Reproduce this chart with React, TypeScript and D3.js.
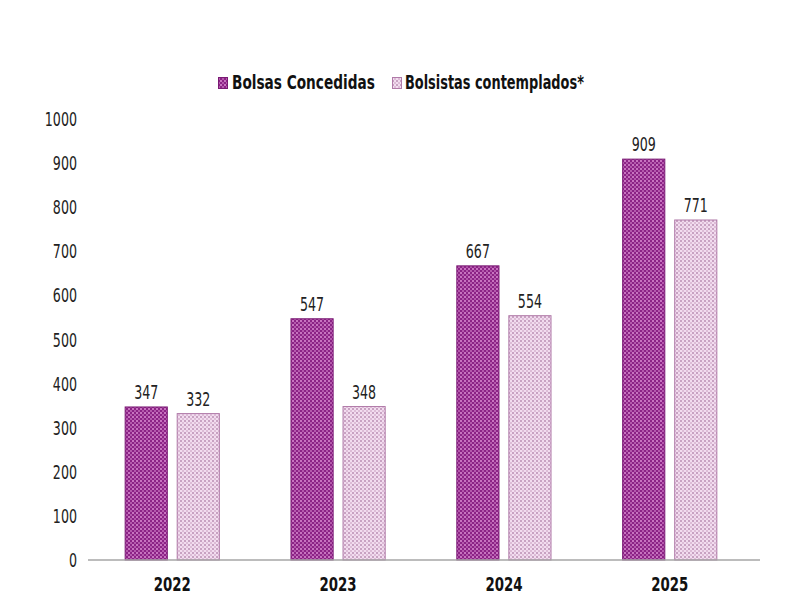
import React from "react";
import * as d3 from "d3";

const categories = ["2022", "2023", "2024", "2025"];
const seriesNames = ["Bolsas Concedidas", "Bolsistas contemplados*"];
const concedidas = [347, 547, 667, 909];
const contemplados = [332, 348, 554, 771];
const yTicks = [0, 100, 200, 300, 400, 500, 600, 700, 800, 900, 1000];

const W = 800, H = 600;
const left = 90, right = 752, top = 119, bottom = 560;
const font = "'DejaVu Sans Condensed', 'DejaVu Sans', sans-serif";

function T({ x, y, anchor = "start", bold = false, sx, children }: any) {
  const s = sx ?? (bold ? 0.78 : 0.74);
  return (
    <text
      transform={`translate(${x},${y}) scale(${s},1)`}
      textAnchor={anchor}
      fontFamily={font}
      fontSize={19}
      fontWeight={bold ? "bold" : "normal"}
      fill={bold ? "#111" : "#222"}
    >
      {children}
    </text>
  );
}

export default function App() {
  const x = d3.scaleBand<string>().domain(categories).range([left, right]).paddingInner(0.432).paddingOuter(0.212);
  const inner = d3.scaleBand<string>().domain(["a", "b"]).range([0, x.bandwidth()]).paddingInner(0.19);
  const y = d3.scaleLinear().domain([0, 1000]).range([bottom, top]);
  const series = [
    { name: seriesNames[0], values: concedidas, fill: "url(#patDark)", stroke: "#7a1a74", key: "a" },
    { name: seriesNames[1], values: contemplados, fill: "url(#patLight)", stroke: "#b07aa8", key: "b" },
  ];
  return (
    <svg width={W} height={H} style={{ position: "absolute", left: 0, top: 0, background: "#fff" }}>
      <defs>
        <pattern id="patDark" width="4" height="4" patternUnits="userSpaceOnUse">
          <rect width="4" height="4" fill="#8c2386" />
          <rect x="0" y="0" width="2" height="2" fill="#c874c0" />
          <rect x="2" y="2" width="2" height="2" fill="#b45aac" />
        </pattern>
        <pattern id="patLight" width="4" height="4" patternUnits="userSpaceOnUse">
          <rect width="4" height="4" fill="#f2dcef" />
          <rect x="0" y="0" width="2" height="2" fill="#c8a2c2" />
          <rect x="2" y="2" width="2" height="2" fill="#dcbcd6" />
        </pattern>
      </defs>
      <rect width={W} height={H} fill="#fff" />
      {yTicks.map((t) => (
        <T key={t} x={77} y={y(t) + 7} anchor="end">{t}</T>
      ))}
      {series.map((s) =>
        categories.map((c, i) => {
          const bx = (x(c) as number) + (inner(s.key) as number);
          const by = y(s.values[i]);
          return (
            <g key={s.key + c}>
              <rect x={bx} y={by} width={inner.bandwidth()} height={bottom - by} fill={s.fill} stroke={s.stroke} strokeWidth={1} />
              <T x={bx + inner.bandwidth() / 2} y={by - 8} anchor="middle">{s.values[i]}</T>
            </g>
          );
        })
      )}
      <line x1={88} x2={760} y1={bottom} y2={bottom} stroke="#a6a6a6" strokeWidth={1.5} />
      {categories.map((c) => (
        <T key={c} x={(x(c) as number) + x.bandwidth() / 2} y={591} anchor="middle" bold>{c}</T>
      ))}
      <g>
        <rect x={218.5} y={77.5} width={9} height={11} fill="url(#patDark)" stroke="#7a1a74" />
        <T x={232} y={89} bold sx={0.8}>{seriesNames[0]}</T>
        <rect x={392.5} y={77.5} width={9} height={11} fill="url(#patLight)" stroke="#b07aa8" />
        <T x={405} y={89} bold sx={0.755}>{seriesNames[1]}</T>
      </g>
    </svg>
  );
}
